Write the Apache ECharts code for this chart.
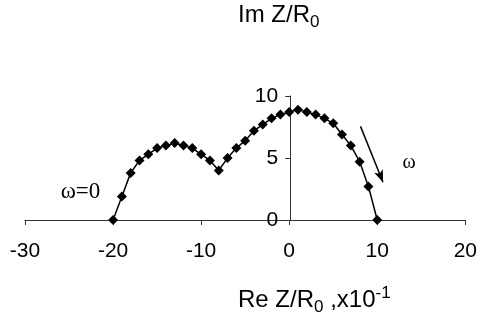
<!DOCTYPE html>
<html>
<head>
<meta charset="utf-8">
<script src="https://cdn.jsdelivr.net/npm/echarts@6/dist/echarts.min.js"></script>
<style>
  html, body { margin: 0; padding: 0; background: #fff; }
  #chart { width: 480px; height: 320px; }
</style>
</head>
<body>
<div id="chart"></div>
<script>
// Re Z/R0 (x10^-1) and Im Z/R0
const reValues = [-20, -19, -18, -17, -16, -15, -14, -13, -12, -11, -10, -9, -8, -7, -6, -5, -4, -3, -2, -1, 0, 1, 2, 3, 4, 5, 6, 7, 8, 9, 10];
const imValues = [0, 1.9, 3.8, 4.8, 5.3, 5.8, 6.0, 6.2, 6.0, 5.8, 5.3, 4.8, 4.0, 5.0, 5.8, 6.4, 7.2, 7.7, 8.2, 8.5, 8.7, 8.9, 8.7, 8.5, 8.2, 7.8, 6.9, 6.0, 4.7, 2.7, 0];
const xTicks = [-30, -20, -10, 0, 10, 20];
const yTicks = [0, 5, 10];

const points = reValues.map((x, i) => [x, imValues[i]]);

const chart = echarts.init(document.getElementById('chart'));

const axisColor = '#333';
const gridLeft = 25;
const gridRight = 13;
// shift the y axis inwards so it sits on Re = 0
const plotWidth = 480 - gridLeft - gridRight;
const yAxisOffset = -plotWidth * (0 - xTicks[0]) / (xTicks[xTicks.length - 1] - xTicks[0]);

chart.setOption({
  animation: false,
  grid: { left: gridLeft, right: gridRight, top: 96, bottom: 100 },
  xAxis: {
    type: 'value',
    min: xTicks[0],
    max: xTicks[xTicks.length - 1],
    interval: 10,
    splitLine: { show: false },
    axisLine: { onZero: false, lineStyle: { color: axisColor, width: 1 } },
    axisTick: { show: true, length: 5, lineStyle: { color: axisColor } },
    axisLabel: { color: '#000', fontSize: 21, fontFamily: 'Liberation Sans', margin: 21 }
  },
  yAxis: {
    type: 'value',
    position: 'left',
    offset: yAxisOffset,
    min: yTicks[0],
    max: yTicks[yTicks.length - 1],
    interval: 5,
    splitLine: { show: false },
    axisLine: { show: true, onZero: false, lineStyle: { color: axisColor, width: 1 } },
    axisTick: { show: true, length: 5, lineStyle: { color: axisColor } },
    axisLabel: { color: '#000', fontSize: 21, fontFamily: 'Liberation Sans', margin: 12 }
  },
  series: [
    {
      type: 'line',
      data: points,
      symbol: 'diamond',
      symbolSize: 10,
      itemStyle: { color: '#000' },
      lineStyle: { color: '#000', width: 1.5 },
      markLine: {
        silent: true,
        symbol: ['none', 'arrow'],
        symbolSize: [7, 12],
        label: { show: false },
        lineStyle: { color: '#000', width: 1.5, type: 'solid' },
        data: [[{ coord: [8.1, 7.55] }, { coord: [10.65, 3.05] }]]
      },
      markPoint: {
        silent: true,
        symbol: 'rect',
        symbolSize: 1,
        itemStyle: { color: 'rgba(0,0,0,0)' },
        label: { show: true, position: 'inside', color: '#000', fontFamily: 'Liberation Serif', fontSize: 23 },
        data: [
          { coord: [-23.7, 2.25], label: { formatter: 'ω=0' } },
          { coord: [13.6, 4.6], label: { formatter: 'ω', fontSize: 20 } }
        ]
      }
    }
  ],
  graphic: [
    {
      type: 'text',
      left: 238,
      top: 3,
      style: {
        text: '{a|Im Z/R}{s|0}',
        rich: {
          a: { fontSize: 24, fontFamily: 'Liberation Sans', fill: '#000' },
          s: { fontSize: 17, fontFamily: 'Liberation Sans', fill: '#000', padding: [14, 0, 0, 0] }
        }
      }
    },
    {
      type: 'text',
      left: 238,
      top: 285,
      style: {
        text: '{a|Re Z/R}{s|0}{a| ,x10}{p|-1}',
        rich: {
          a: { fontSize: 24, fontFamily: 'Liberation Sans', fill: '#000' },
          s: { fontSize: 17, fontFamily: 'Liberation Sans', fill: '#000', padding: [14, 0, 0, 0] },
          p: { fontSize: 17, fontFamily: 'Liberation Sans', fill: '#000', padding: [0, 0, 14, 0] }
        }
      }
    }
  ]
});
</script>
</body>
</html>
